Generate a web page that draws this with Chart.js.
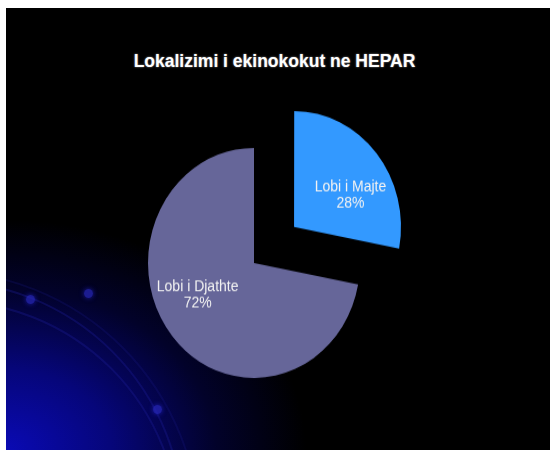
<!DOCTYPE html>
<html>
<head>
<meta charset="utf-8">
<script src="https://cdn.jsdelivr.net/npm/chart.js@4/dist/chart.umd.min.js"></script>
<style>
  html, body { margin: 0; padding: 0; background: #fff; }
  #slide {
    position: absolute; left: 6px; top: 8px; width: 544px; height: 442px;
    overflow: hidden;
    background: radial-gradient(ellipse 300px 230px at 0% 100%, #0a0ab4 0%, #06067a 35%, #02022a 70%, #000 100%), #000;
  }
  .ring {
    position: absolute; border-radius: 50%;
    border: 2px solid rgba(30, 30, 150, 0.35);
  }
  .dot {
    position: absolute; width: 9px; height: 9px; border-radius: 50%;
    background: rgba(40, 40, 190, 0.7);
    box-shadow: 0 0 5px rgba(40, 40, 220, 0.7);
  }
  #title {
    position: absolute; left: 0; top: 43px; width: 537px; text-align: center;
    font: bold 17.5px "Liberation Sans", Arial, sans-serif; color: #fff;
    text-shadow: 0 0 2px rgba(255, 255, 255, 0.6);
  }
  #wrap {
    position: absolute; left: 1px; top: 0; width: 541px; height: 420px;
    transform: scaleY(1.085); transform-origin: 0 0;
  }
</style>
</head>
<body>
<div id="slide">
  <div class="ring" style="left:-306px; top:272px; width:480px; height:480px;"></div>
  <div class="ring" style="left:-290px; top:292px; width:460px; height:460px;"></div>
  <div class="ring" style="left:-330px; top:262px; width:520px; height:520px; border-color: rgba(30,30,150,0.2);"></div>
  <div class="dot" style="left:20px; top:287px;"></div>
  <div class="dot" style="left:78px; top:281px;"></div>
  <div class="dot" style="left:147px; top:397px;"></div>
  <div id="title">Lokalizimi i ekinokokut ne HEPAR</div>
  <div id="wrap"><canvas id="pieChart"></canvas></div>
</div>
<script>
const categories = ["Lobi i Majte", "Lobi i Djathte"];
const shares = [28, 72];
const shareLabels = ["28%", "72%"];
const sliceColors = ["#3399ff", "#666699"];

// writes the two-line label inside each slice
const sliceLabels = {
    id: "sliceLabels",
    afterDatasetsDraw(chart) {
        const ctx = chart.ctx;
        const meta = chart.getDatasetMeta(0);
        ctx.save();
        ctx.fillStyle = "#f2f2f2";
        ctx.font = "14px 'Liberation Sans', Arial, sans-serif";
        ctx.textAlign = "center";
        ctx.textBaseline = "middle";
        meta.data.forEach((arc, i) => {
            const { x, y, startAngle, endAngle, outerRadius } = arc.getProps(["x", "y", "startAngle", "endAngle", "outerRadius"]);
            const mid = (startAngle + endAngle) / 2;
            // arcs are drawn shifted by a quarter of their offset option
            const off = (arc.options.offset || 0) / 4;
            const cx = x + Math.cos(mid) * off;
            const cy = y + Math.sin(mid) * off;
            const a = mid + 12 * Math.PI / 180;
            const d = outerRadius * 0.6;
            const lx = cx + Math.cos(a) * d;
            const ly = cy + Math.sin(a) * d;
            ctx.fillText(categories[i], lx, ly - 7.4);
            ctx.fillText(shareLabels[i], lx, ly + 7.4);
        });
        ctx.restore();
    }
};

new Chart(document.getElementById("pieChart"), {
    type: "pie",
    data: {
        labels: categories,
        datasets: [{
            data: shares,
            backgroundColor: sliceColors,
            borderWidth: 0,
            offset: [208, 0]
        }]
    },
    options: {
        responsive: true,
        maintainAspectRatio: false,
        animation: false,
        radius: 106,
        layout: { padding: { left: 0, right: 47, top: 50, bottom: 0 } },
        plugins: {
            legend: { display: false },
            tooltip: { enabled: false }
        }
    },
    plugins: [sliceLabels]
});
</script>
</body>
</html>
